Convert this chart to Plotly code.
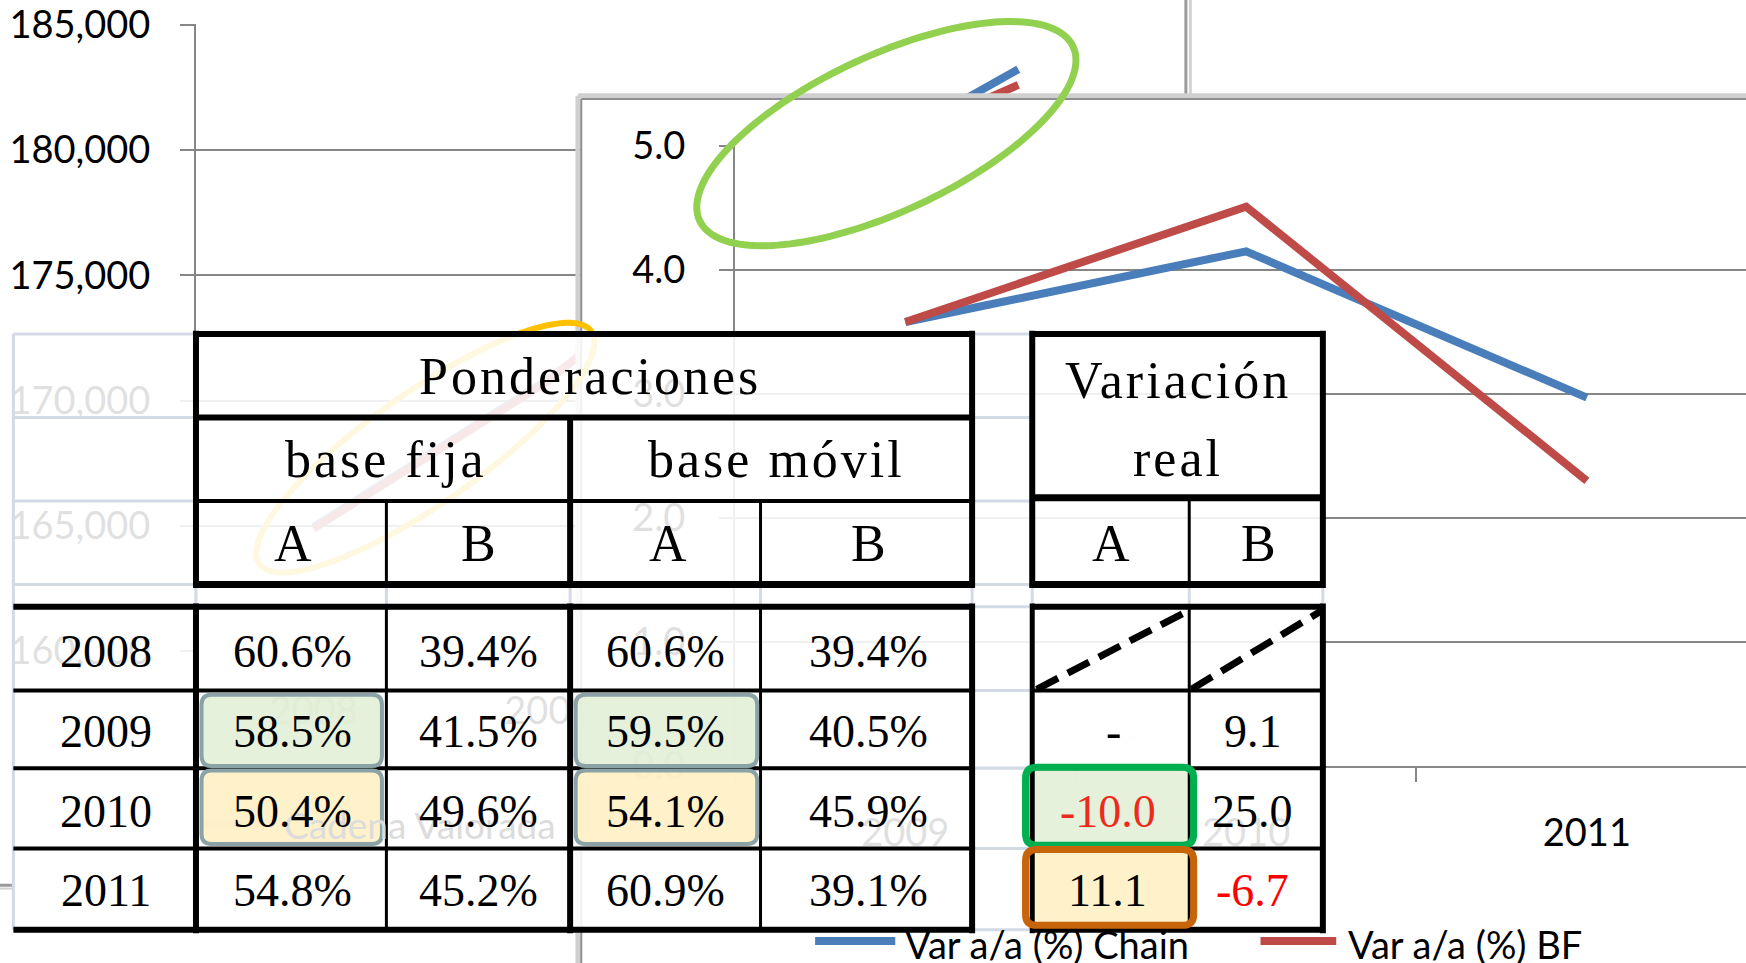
import numpy as np
import plotly.graph_objects as go

W, H = 1746, 963
K = W / 1568.0  # layout measured on a 1568-px-wide view of the reference

# ---------------- data ----------------
bg_years = ["2008", "2009", "2010", "2011"]
cadena_valorada = [164950, 170850, 177950, 183220]
serie_base_fija = [164890, 170790, 178500, 182600]

var_years = ["2009", "2010", "2011"]
var_chain = [3.58, 4.15, 2.97]
var_bf = [3.58, 4.51, 2.30]

tbl_years = ["2008", "2009", "2010", "2011"]
fija_a = [60.6, 58.5, 50.4, 54.8]
fija_b = [39.4, 41.5, 49.6, 45.2]
movil_a = [60.6, 59.5, 54.1, 60.9]
movil_b = [39.4, 40.5, 45.9, 39.1]
real_a = [None, "-", -10.0, 11.1]
real_b = [None, 9.1, 25.0, -6.7]

legend_bg = "Cadena Valorada"
legend_chain = "Var a/a (%) Chain"
legend_bf = "Var a/a (%) BF"

# ---------------- helpers ----------------
def px(s):
    return s * K / W


def py(s):
    return 1 - s * K / H


BLUE = "#4A7EBB"
RED = "#BE4B48"
GRID = "#868686"
SANS = "Lato, 'Open Sans', sans-serif"
SERIF = "'Liberation Serif', 'DejaVu Serif', serif"

fig = go.Figure()
# background chart (levels)
fig.add_trace(go.Scatter(x=bg_years, y=cadena_valorada, mode="lines", name=legend_bg,
                         line=dict(color=BLUE, width=8), xaxis="x", yaxis="y", showlegend=False))
fig.add_trace(go.Scatter(x=bg_years, y=serie_base_fija, mode="lines", name="Base fija",
                         line=dict(color=RED, width=8), xaxis="x", yaxis="y", showlegend=False))
# white frame of the front chart
fig.add_trace(go.Scatter(x=[], y=[], xaxis="x2", yaxis="y2", showlegend=False, hoverinfo="skip"))
# front chart (variations)
fig.add_trace(go.Scatter(x=var_years, y=var_chain, mode="lines", name=legend_chain,
                         line=dict(color=BLUE, width=8), xaxis="x3", yaxis="y3", showlegend=False))
fig.add_trace(go.Scatter(x=var_years, y=var_bf, mode="lines", name=legend_bf,
                         line=dict(color=RED, width=8), xaxis="x3", yaxis="y3", showlegend=False))

tickfont = dict(family=SANS, size=38, color="#000000")

layout = dict(
    width=W, height=H, margin=dict(l=0, r=0, t=0, b=0, pad=0, autoexpand=False),
    paper_bgcolor="white", plot_bgcolor="white", showlegend=False,
    xaxis=dict(domain=[px(176), px(1020)], anchor="y", type="category", range=[-0.5, 3.5],
               showgrid=False, showline=False, ticks="", tickfont=tickfont, automargin=False,
               ticklabelstandoff=34, fixedrange=True),
    yaxis=dict(domain=[py(585), py(22)], anchor="x", range=[159990, 185010], dtick=5000,
               tickformat=",d", showgrid=True, gridcolor=GRID, gridwidth=2, automargin=False,
               showline=True, linecolor=GRID, linewidth=2, ticks="outside", ticklen=14,
               tickcolor=GRID, tickwidth=2, tickfont=tickfont, ticklabelstandoff=22,
               zeroline=False, fixedrange=True),
    xaxis2=dict(domain=[px(522), 1.0], anchor="y2", visible=False, range=[0, 1], automargin=False),
    yaxis2=dict(domain=[0.0, py(88)], anchor="x2", visible=False, range=[0, 1], automargin=False),
    xaxis3=dict(domain=[px(660), 1.0], anchor="y3", type="category", range=[-0.5, 2.467],
                showgrid=False, showline=True, linecolor=GRID, linewidth=2, automargin=False,
                ticks="outside", tickson="boundaries", ticklen=14, tickcolor=GRID, tickwidth=2,
                tickfont=tickfont, ticklabelstandoff=32, fixedrange=True),
    yaxis3=dict(domain=[py(688), py(131)], anchor="x3", range=[0, 5], dtick=1, automargin=False,
                tickformat=".1f", showgrid=True, gridcolor=GRID, gridwidth=2,
                showline=True, linecolor=GRID, linewidth=2, ticks="outside", ticklen=14,
                tickcolor=GRID, tickwidth=2, tickfont=tickfont, ticklabelstandoff=26,
                zeroline=False, fixedrange=True),
)

shapes = []


def line(x0, y0, x1, y1, color="#000000", width=4, dash=None):
    d = dict(type="line", xref="paper", yref="paper", x0=px(x0), y0=py(y0), x1=px(x1), y1=py(y1),
             line=dict(color=color, width=width), layer="above")
    if dash:
        d["line"]["dash"] = dash
    shapes.append(d)


def ellipse(cx, cy, a, b, theta, color, width):
    t = np.linspace(0, 2 * np.pi, 160, endpoint=False)
    th = np.deg2rad(theta)
    xs = cx + a * np.cos(t) * np.cos(th) + b * np.sin(t) * np.sin(th)
    ys = cy - a * np.cos(t) * np.sin(th) + b * np.sin(t) * np.cos(th)
    path = "M " + " L ".join(f"{px(x):.5f},{py(y):.5f}" for x, y in zip(xs, ys)) + " Z"
    shapes.append(dict(type="path", xref="paper", yref="paper", path=path,
                       line=dict(color=color, width=width), layer="above"))


def rrect(x0, y0, x1, y1, r, fill=None, color=None, width=0):
    pts = [
        f"M {px(x0 + r):.5f},{py(y0):.5f}",
        f"L {px(x1 - r):.5f},{py(y0):.5f}",
        f"Q {px(x1):.5f},{py(y0):.5f} {px(x1):.5f},{py(y0 + r):.5f}",
        f"L {px(x1):.5f},{py(y1 - r):.5f}",
        f"Q {px(x1):.5f},{py(y1):.5f} {px(x1 - r):.5f},{py(y1):.5f}",
        f"L {px(x0 + r):.5f},{py(y1):.5f}",
        f"Q {px(x0):.5f},{py(y1):.5f} {px(x0):.5f},{py(y1 - r):.5f}",
        f"L {px(x0):.5f},{py(y0 + r):.5f}",
        f"Q {px(x0):.5f},{py(y0):.5f} {px(x0 + r):.5f},{py(y0):.5f} Z",
    ]
    d = dict(type="path", xref="paper", yref="paper", path=" ".join(pts), layer="above",
             line=dict(color=color if color else "rgba(0,0,0,0)", width=width))
    if fill:
        d["fillcolor"] = fill
    shapes.append(d)


# chart frames
line(1065, -5, 1065, 88, "#9A9A9A", 3)
line(1069, -5, 1069, 86, "#D2D2D2", 3)
line(-5, 795, 12, 795, "#9A9A9A", 3)
line(-5, 798, 12, 798, "#D2D2D2", 2)
line(519, 86, 1580, 86, "#D0D0D0", 5)
line(522, 89, 1580, 89, "#8F8F8F", 2)
line(519, 86, 519, 880, "#D0D0D0", 5)
line(522, 89, 522, 880, "#8F8F8F", 2)

# highlight ellipses
ellipse(796, 120, 185, 70, 25, "#92D050", 7)
ellipse(382, 402, 182, 50, 35, "#FFC000", 6)

# background legend sample (under the table)
line(182, 740, 246, 740, BLUE, 7)

# translucent table sheet
shapes.append(dict(type="rect", xref="paper", yref="paper", x0=px(12), x1=px(1188), y0=py(835), y1=py(300),
                   fillcolor="rgba(255,255,255,0.88)", line=dict(width=0), layer="above"))

# light spreadsheet gridlines
LG = "#D3DAE6"
for yy in (300, 375, 450, 525):
    line(12, yy, 176, yy, LG, 3)
for yy in (300, 375, 450, 525, 545, 620, 690, 762, 835):
    line(873, yy, 927, yy, LG, 3)
line(12, 300, 12, 835, LG, 3)
for xx in (176, 347, 512, 683, 873, 927, 1068, 1188):
    line(xx, 525, xx, 545, LG, 3)

# highlight box fills (under black rules)
G_FILL = "rgba(224,239,211,0.85)"
Y_FILL = "rgba(255,239,191,0.85)"
rrect(181, 624, 343, 688, 9, fill=G_FILL)
rrect(181, 692, 343, 758, 9, fill=Y_FILL)
rrect(517, 624, 680, 688, 9, fill=G_FILL)
rrect(517, 692, 680, 758, 9, fill=Y_FILL)
rrect(921, 689, 1072, 759, 10, fill=G_FILL)
rrect(921, 763, 1072, 831, 10, fill=Y_FILL)

# black rules: header left
B = "#000000"
line(176, 300, 873, 300, B, 6)
line(176, 525, 873, 525, B, 7)
line(176, 297, 176, 528, B, 6)
line(873, 297, 873, 528, B, 6)
line(176, 375, 873, 375, B, 6)
line(176, 450, 873, 450, B, 4)
line(512, 375, 512, 528, B, 6)
line(347, 450, 347, 525, B, 3)
line(683, 450, 683, 525, B, 3)
# header right
line(927, 300, 1188, 300, B, 6)
line(927, 525, 1188, 525, B, 7)
line(927, 297, 927, 528, B, 6)
line(1188, 297, 1188, 528, B, 6)
line(927, 447, 1188, 447, B, 7)
line(1068, 447, 1068, 525, B, 3)
# data left
line(12, 545, 873, 545, B, 6)
for yy in (620, 690, 762):
    line(12, yy, 873, yy, B, 4)
line(12, 835, 873, 835, B, 6)
line(176, 542, 176, 838, B, 6)
line(512, 542, 512, 838, B, 6)
line(873, 542, 873, 838, B, 6)
line(347, 545, 347, 835, B, 3)
line(683, 545, 683, 835, B, 3)
# data right
line(927, 545, 1188, 545, B, 6)
line(927, 835, 1188, 835, B, 6)
line(927, 542, 927, 838, B, 5)
line(1188, 542, 1188, 838, B, 6)
line(1068, 545, 1068, 835, B, 3)
for yy in (620, 690, 762):
    line(927, yy, 1188, yy, B, 4)
line(931, 619, 1066, 549, B, 7, "24px,11px")
line(1070, 619, 1186, 549, B, 7, "24px,11px")

# highlight box borders
TEAL = "#8BA3A6"
rrect(181, 624, 343, 688, 9, color=TEAL, width=4)
rrect(181, 692, 343, 758, 9, color=TEAL, width=4)
rrect(517, 624, 680, 688, 9, color=TEAL, width=4)
rrect(517, 692, 680, 758, 9, color=TEAL, width=4)
rrect(921, 689, 1072, 759, 10, color="#00B050", width=7)
rrect(921, 763, 1072, 831, 10, color="#C8640A", width=7)

# front chart legend samples
line(732, 845, 804, 845, BLUE, 8)
line(1132, 845, 1200, 845, RED, 8)

layout["shapes"] = shapes

ann = []


def text(x, y, s, size=46, color="#000000", family=SERIF, xanchor="center", spacing=None):
    if spacing:
        s = f'<span style="letter-spacing:{spacing}px">{s}</span>'
    ann.append(dict(x=px(x), y=py(y), xref="paper", yref="paper", text=s, showarrow=False,
                    xanchor=xanchor, yanchor="middle", font=dict(family=family, size=size, color=color)))


# faded legend of background chart (seen through the table)
text(253, 740, legend_bg, size=37, color="#DCDCDC", family=SANS, xanchor="left")

# headers
HS = 52
text(530, 338, "Ponderaciones", size=HS, spacing=3)
text(347, 413, "base fija", size=HS, spacing=3)
text(697, 413, "base móvil", size=HS, spacing=3)
text(1058, 342, "Variación", size=HS, spacing=3)
text(1058, 412, "real", size=HS, spacing=3)
for xx, s in ((263, "A"), (430, "B"), (600, "A"), (780, "B"), (998, "A"), (1130, "B")):
    text(xx, 488, s, size=HS)

rows_y = [585, 657, 729, 800]
for i, yy in enumerate(rows_y):
    text(95, yy, tbl_years[i])
    text(263, yy, f"{fija_a[i]:.1f}%")
    text(430, yy, f"{fija_b[i]:.1f}%")
    text(598, yy, f"{movil_a[i]:.1f}%")
    text(780, yy, f"{movil_b[i]:.1f}%")
    va, vb = real_a[i], real_b[i]
    if va is not None:
        if isinstance(va, str):
            text(1000, yy, va)
        else:
            text(995, yy, f"{va:.1f}", color="#EE2A1A" if va < 0 else "#000000")
    if vb is not None:
        text(1125, yy, f"{vb:.1f}", color="#FF0000" if vb < 0 else "#000000")

# front chart legend labels
text(811, 848, legend_chain, size=38, family=SANS, xanchor="left")
text(1209, 848, legend_bf, size=38, family=SANS, xanchor="left")

layout["annotations"] = ann
fig.update_layout(**layout)

fig.write_html("out.html", config={"displayModeBar": False},
               post_script="document.body.style.margin='0';document.body.style.overflow='hidden';")
